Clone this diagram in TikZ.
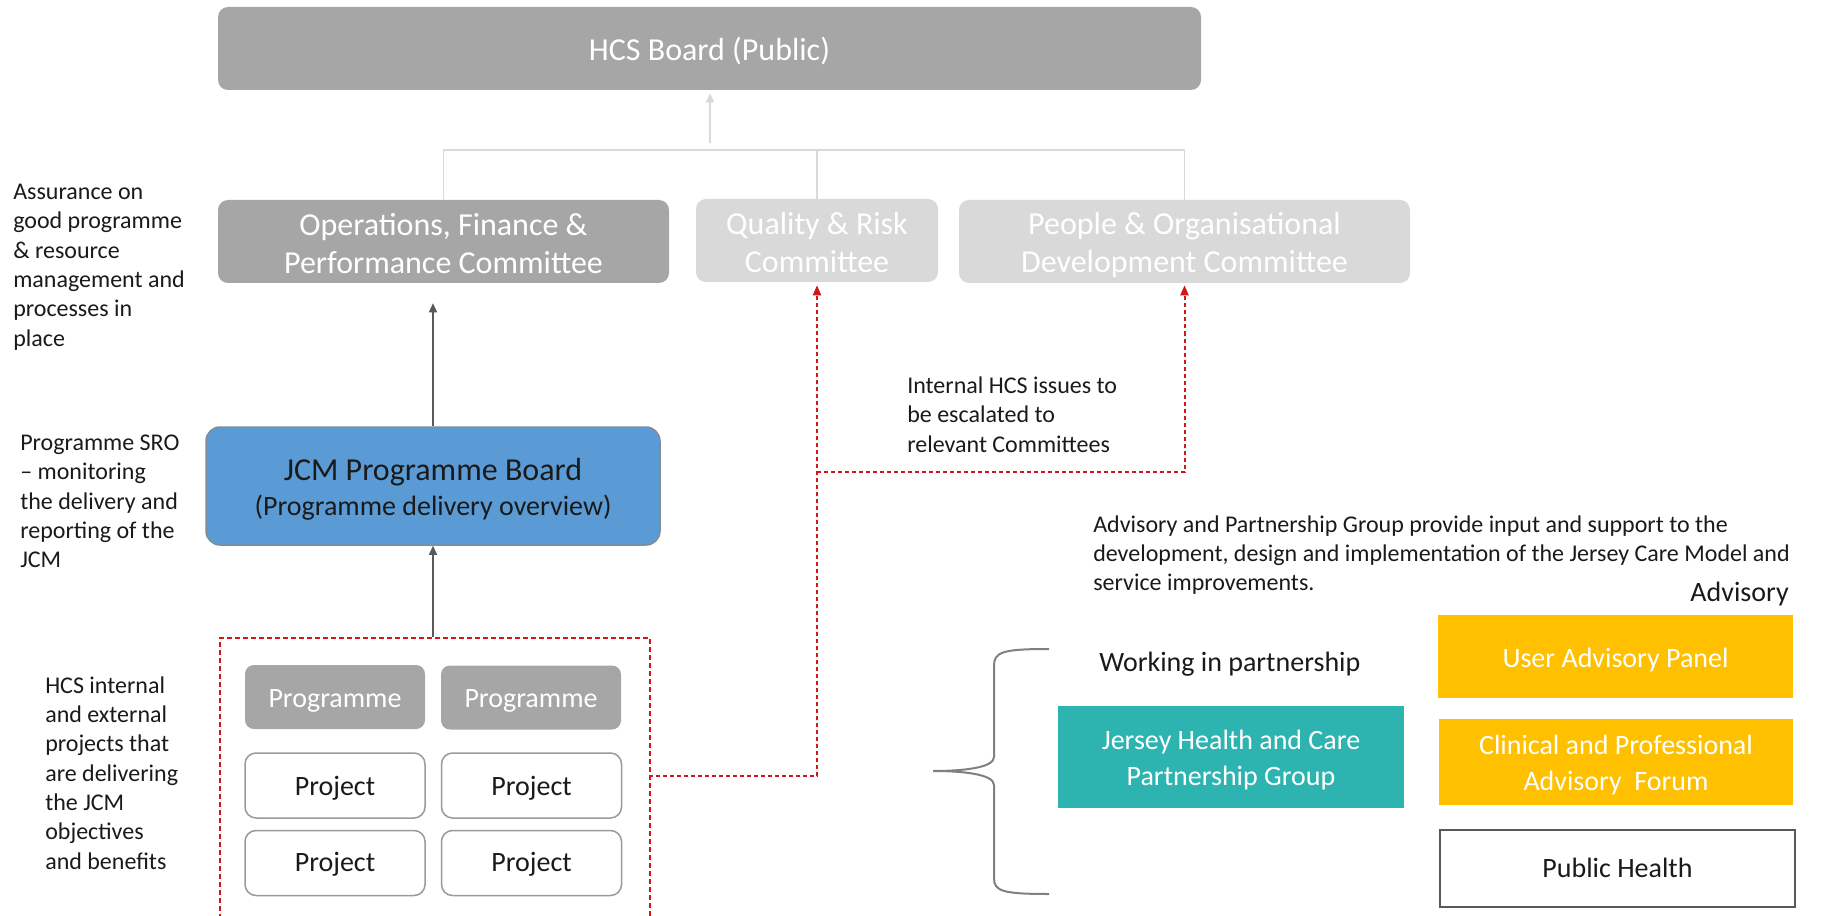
\documentclass[tikz,border=0pt]{standalone}
\usepackage{fontspec}
\setmainfont{Carlito}
\usetikzlibrary{arrows.meta}
\definecolor{boxgray}{HTML}{A6A6A6}
\definecolor{lightbox}{HTML}{D9D9D9}
\definecolor{jcmblue}{HTML}{5B9BD5}
\definecolor{jcmedge}{HTML}{7F8C99}
\definecolor{darkline}{HTML}{595959}
\definecolor{redline}{HTML}{D01818}
\definecolor{tealbox}{HTML}{2DB4B0}
\definecolor{ambbox}{HTML}{FFC000}
\definecolor{projedge}{HTML}{9A9A9A}
\definecolor{txt}{HTML}{1A1A1A}
\newcommand\szL{\fontsize{24}{28.5}\selectfont}
\newcommand\szM{\fontsize{21}{26.6}\selectfont}
\newcommand\szS{\fontsize{18}{22}\selectfont}
\begin{document}
\begin{tikzpicture}[x=0.75pt,y=-0.75pt,
  gbox/.style={fill=boxgray, rounded corners=7.5pt, inner sep=0pt},
  lbox/.style={fill=lightbox, rounded corners=7.5pt, inner sep=0pt},
  projbox/.style={draw=projedge, line width=1.125pt, fill=white, rounded corners=8.25pt, inner sep=0pt, minimum width=135pt, minimum height=48.75pt},
  progbox/.style={gbox, rounded corners=6.75pt, minimum width=135pt, minimum height=48pt},
  abox/.style={fill=ambbox, inner sep=0pt},
  wtxt/.style={inner sep=0pt, align=center, text=white},
  btxt/.style={inner sep=0pt, align=center, text=txt},
  note/.style={inner sep=0pt, align=left, text=txt, font=\szS},
  lgline/.style={draw=lightbox, line width=1.125pt},
  dgarrow/.style={draw=darkline, line width=1.125pt, -{Triangle[length=6.75pt,width=6pt]}},
  redarrow/.style={draw=redline, line width=1.5pt, dash pattern=on 3pt off 2.25pt, -{Triangle[length=7.5pt,width=6pt,fill=redline]}},
]
\useasboundingbox (0,0) rectangle (1821,916);

% top board and committees
\node[gbox, minimum width=737.25pt, minimum height=62.25pt] (hcs) at (709.5,48.5) {};
\node[wtxt, font=\szL] (hcs-t) at ([yshift=-1.7pt]hcs.center) {HCS Board (Public)};
\node[gbox, minimum width=338.25pt, minimum height=62.25pt] (ops) at (443.5,241.5) {};
\node[wtxt, font=\szL] (ops-t) at ([yshift=-1.7pt]ops.center) {Operations, Finance \&\\Performance Committee};
\node[lbox, minimum width=181.5pt, minimum height=62.25pt] (qr) at (817,240.5) {};
\node[wtxt, font=\szL] (qr-t) at ([yshift=-1.7pt]qr.center) {Quality \& Risk\\Committee};
\node[lbox, minimum width=338.25pt, minimum height=62.25pt] (peo) at (1184.5,241.5) {};
\node[wtxt, font=\szL] (peo-t) at ([yshift=-2.6pt]peo.center) {People \& Organisational\\Development Committee};

% committee tree to board
\coordinate (treejoin) at (710,150);
\draw[lgline] (ops.north) |- (treejoin) -| (peo.north);
\draw[lgline] (qr.north) -- (qr.north |- treejoin);
\draw[lgline, -{Triangle[length=6.75pt,width=6pt]}, shorten >=2.25pt] ([yshift=5.25pt]treejoin) -- (treejoin |- hcs.south);

% JCM programme board
\node[fill=jcmblue, draw=jcmedge, line width=1.125pt, rounded corners=10.5pt, minimum width=340.5pt, minimum height=88.5pt, inner sep=0pt] (jcm) at (433,486) {};
\node[btxt] (jcm-t) at ([yshift=-2.5pt]jcm.center) {{\szL JCM Programme Board}\\[5.75pt]{\szM (Programme delivery overview)}};
\draw[dgarrow, shorten >=15pt] (jcm.north) -- (jcm.north |- ops.south);

% programme / project group
\node[draw=redline, line width=1.5pt, dash pattern=on 3.75pt off 2.25pt, minimum width=322.5pt, minimum height=240pt, inner sep=0pt, anchor=north west] (grp) at (219,637) {};
\draw[dgarrow] (grp.north -| jcm.south) -- (jcm.south);
\node[progbox] (prog1) at (335,697) {};
\node[wtxt, font=\szM] (prog1-t) at ([yshift=-2.6pt]prog1.center) {Programme};
\node[progbox] (prog2) at (531,697.5) {};
\node[wtxt, font=\szM] (prog2-t) at ([yshift=-2.6pt]prog2.center) {Programme};
\node[projbox] (proj1) at (335,785.5) {};
\node[btxt, font=\szM] (proj1-t) at ([yshift=-1.9pt]proj1.center) {Project};
\node[projbox] (proj2) at (531.5,785.5) {};
\node[btxt, font=\szM] (proj2-t) at ([yshift=-1.9pt]proj2.center) {Project};
\node[projbox] (proj3) at (335,863) {};
\node[btxt, font=\szM] (proj3-t) at ([yshift=-1.2pt]proj3.center) {Project};
\node[projbox] (proj4) at (531.5,863) {};
\node[btxt, font=\szM] (proj4-t) at ([yshift=-1.2pt]proj4.center) {Project};

% escalation lines
\coordinate (redA) at (649,776);
\coordinate (redB) at (817,472);
\draw[redarrow, shorten >=2.25pt] (redA) -| (qr.south);
\draw[redarrow, shorten >=1.5pt] (redB) -| (peo.south);

% left annotations
\node[note, anchor=west] (n1) at (13,267) {Assurance on\\good programme\\\& resource\\management and\\processes in\\place};
\node[note, anchor=west] (n2) at (20,501.5) {Programme SRO\\– monitoring\\the delivery and\\reporting of the\\JCM};
\node[note, anchor=west] (n3) at (45,773) {HCS internal\\and external\\projects that\\are delivering\\the JCM\\objectives\\and benefits};
\node[note, anchor=west] (n4) at (907,414.5) {Internal HCS issues to\\be escalated to\\relevant Committees};

% advisory and partnership
\node[note, anchor=west] (n5) at (1093,555) {Advisory and Partnership Group provide input and support to the\\development, design and implementation of the Jersey Care Model and\\service improvements.};
\node[inner sep=0pt, text=txt, font=\szM, anchor=east] (advlab) at (1789,594) {Advisory};
\node[inner sep=0pt, text=txt, font=\szM, anchor=west] (wip) at (1099,664) {Working in partnership};
\node[fill=tealbox, inner sep=0pt, minimum width=259.5pt, minimum height=76.5pt] (jhc) at (1231,757) {};
\node[wtxt, font=\szM] (jhc-t) at ([yshift=-2.25pt]jhc.center) {Jersey Health and Care\\Partnership Group};
\node[abox, minimum width=266.25pt, minimum height=62.25pt] (uap) at (1615.5,656.5) {};
\node[wtxt, font=\szM] (uap-t) at ([yshift=-2.6pt]uap.center) {User Advisory Panel};
\node[abox, minimum width=265.5pt, minimum height=64.5pt] (cpaf) at (1616,762) {};
\node[wtxt, font=\szM] (cpaf-t) at ([yshift=-2.25pt]cpaf.center) {Clinical and Professional\\Advisory\ \ Forum};
\node[draw=darkline, line width=1.5pt, fill=white, inner sep=0pt, minimum width=266.25pt, minimum height=57.75pt] (ph) at (1617.5,868.5) {};
\node[btxt, font=\szM] (ph-t) at ([yshift=0.75pt]ph.center) {Public Health};

% brace
\draw[draw=gray, line width=1.5pt] (1049,649) .. controls (1002,649) and (994,652) .. (994,666) -- (994,757)
  .. controls (994,768) and (962,771) .. (933,771) .. controls (962,771) and (994,774) .. (994,785)
  -- (994,878) .. controls (994,891) and (1002,894) .. (1049,894);
\end{tikzpicture}
\end{document}
